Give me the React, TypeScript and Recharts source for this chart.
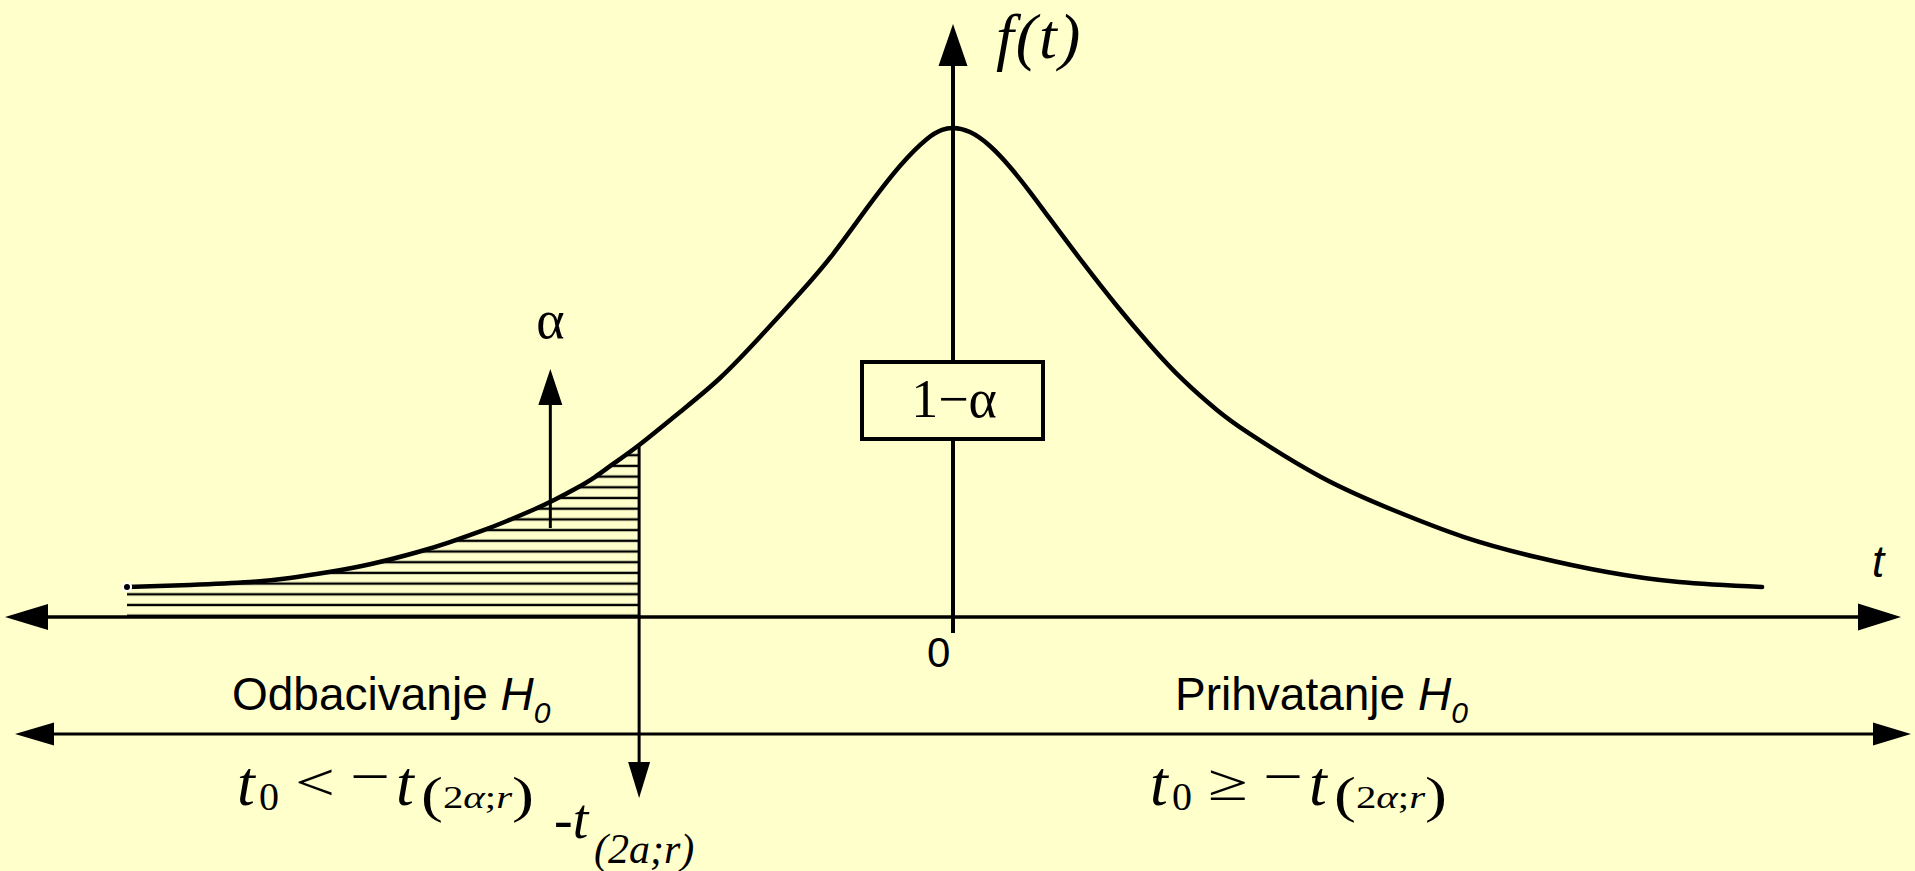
import { Area, ComposedChart, Customized, Line, XAxis, YAxis } from "recharts"

// t values (0 = vertical axis)
const tValues = [
  -4.0, -3.695, -3.404, -3.211, -3.022, -2.818, -2.591, -2.436, -2.276, -2.16,
  -2.024, -1.927, -1.831, -1.734, -1.646, -1.52, -1.322, -1.128, -0.935, -0.741,
  -0.581, -0.416, -0.257, -0.126, -0.053, 0, 0.082, 0.179, 0.276, 0.373, 0.47,
  0.63, 0.794, 0.954, 1.114, 1.278, 1.438, 1.782, 2.131, 2.475, 2.823, 3.167,
  3.516, 3.918,
]

// density f(t), peak = 0.40
const fValues = [
  0.0245, 0.0262, 0.0286, 0.0319, 0.0368, 0.0434, 0.0532, 0.0613, 0.0708,
  0.0785, 0.0883, 0.0961, 0.1047, 0.1145, 0.1252, 0.1407, 0.1677, 0.1955,
  0.229, 0.265, 0.2969, 0.3346, 0.3689, 0.391, 0.3984, 0.4, 0.3967, 0.3853,
  0.3681, 0.3476, 0.3256, 0.2896, 0.2544, 0.2225, 0.1939, 0.1693, 0.1497,
  0.1145, 0.0875, 0.0654, 0.0491, 0.0368, 0.0286, 0.0245,
]

// critical value -t(2a;r) and the alpha pointer position
const T_CRIT = -1.52
const T_ALPHA = -1.95

const data = tValues.map((t, i) => ({
  t,
  f: fValues[i],
  hatch: t <= T_CRIT ? fValues[i] : null,
}))

const W = 1915
const H = 871
const BG = "#FFFFCC"
const ORIGIN_X = 953
const ORIGIN_Y = 617
const PX_PER_T = 206.5
const PX_PER_F = 1222.5
const X_DOMAIN = [-ORIGIN_X / PX_PER_T, (W - ORIGIN_X) / PX_PER_T]
const Y_DOMAIN = [-(H - ORIGIN_Y) / PX_PER_F, ORIGIN_Y / PX_PER_F]

const sx = (t: number) => ORIGIN_X + t * PX_PER_T
const sy = (f: number) => ORIGIN_Y - f * PX_PER_F

const SERIF = "'Liberation Serif', 'Times New Roman', serif"
const SANS = "'Liberation Sans', Arial, sans-serif"

// filled triangle with its tip at (x, y), pointing along (dx, dy)
function head(x: number, y: number, dx: number, dy: number, len: number, half: number) {
  const bx = x - dx * len
  const by = y - dy * len
  const px = -dy * half
  const py = dx * half
  return `${x},${y} ${bx + px},${by + py} ${bx - px},${by - py}`
}

function Formula({ x0, rel }: { x0: number; rel: string }) {
  return (
    <g fill="#000" fontFamily={SERIF}>
      <text x={x0} y={805} fontSize={64} fontStyle="italic">t</text>
      <text x={x0 + 22} y={810} fontSize={40}>0</text>
      <text x={x0 + 58} y={800} fontSize={52} textLength={40} lengthAdjust="spacingAndGlyphs">
        {rel}
      </text>
      <text x={x0 + 113} y={796} fontSize={58} textLength={40} lengthAdjust="spacingAndGlyphs">
        −
      </text>
      <text x={x0 + 159} y={805} fontSize={64} fontStyle="italic">t</text>
      <text x={x0 + 184} y={812} textLength={113} lengthAdjust="spacingAndGlyphs">
        <tspan fontSize={50}>(</tspan>
        <tspan fontSize={31} dy={-4}>2</tspan>
        <tspan fontSize={31} fontStyle="italic">α</tspan>
        <tspan fontSize={31}>;</tspan>
        <tspan fontSize={31} fontStyle="italic">r</tspan>
        <tspan fontSize={50} dy={4}>)</tspan>
      </text>
    </g>
  )
}

function Overlay() {
  const xc = sx(T_CRIT)
  const fc = fValues[tValues.indexOf(T_CRIT)]
  const xa = sx(T_ALPHA)
  return (
    <g>
      <defs>
        <pattern id="hatch" patternUnits="userSpaceOnUse" width={20} height={10.7}>
          <line x1={0} y1={5.8} x2={20} y2={5.8} stroke="#000" strokeWidth={2.4} />
        </pattern>
      </defs>

      {/* t axis */}
      <line x1={40} y1={ORIGIN_Y} x2={1865} y2={ORIGIN_Y} stroke="#000" strokeWidth={3.5} />
      <polygon points={head(5, ORIGIN_Y, -1, 0, 43, 13)} fill="#000" />
      <polygon points={head(1901, ORIGIN_Y, 1, 0, 43, 13.5)} fill="#000" />
      <text x={1872} y={577} fontFamily={SANS} fontStyle="italic" fontSize={44}>t</text>
      <text x={927} y={667} fontFamily={SANS} fontSize={42}>0</text>

      {/* f(t) axis */}
      <line x1={ORIGIN_X} y1={60} x2={ORIGIN_X} y2={633} stroke="#000" strokeWidth={4} />
      <polygon points={head(ORIGIN_X, 24, 0, -1, 42, 14.5)} fill="#000" />
      <text x={996} y={58} fontFamily={SERIF} fontStyle="italic" fontSize={64} letterSpacing={2}>
        f(t)
      </text>

      {/* 1 - alpha box */}
      <rect x={862} y={362} width={181} height={77} fill={BG} stroke="#000" strokeWidth={4} />
      <text x={954} y={417} textAnchor="middle" fontFamily={SERIF} fontSize={54}>1−α</text>

      {/* alpha pointer */}
      <line x1={xa} y1={528} x2={xa} y2={400} stroke="#000" strokeWidth={3} />
      <polygon points={head(xa, 369, 0, -1, 36, 12)} fill="#000" />
      <text x={xa} y={338} textAnchor="middle" fontFamily={SERIF} fontSize={54}>α</text>

      {/* critical value */}
      <line x1={xc} y1={sy(fc)} x2={xc} y2={770} stroke="#000" strokeWidth={3} />
      <polygon points={head(xc, 798, 0, 1, 36, 11)} fill="#000" />
      <text x={554} y={838} fontFamily={SERIF} fontStyle="italic" fontSize={56}>-t</text>
      <text x={594} y={863} fontFamily={SERIF} fontStyle="italic" fontSize={42}>(2a;r)</text>

      {/* decision regions */}
      <line x1={50} y1={734} x2={1875} y2={734} stroke="#000" strokeWidth={3} />
      <polygon points={head(15, 734, -1, 0, 39, 11.5)} fill="#000" />
      <polygon points={head(1911, 734, 1, 0, 38, 11.5)} fill="#000" />
      <text x={232} y={710} fontFamily={SANS} fontSize={46}>
        Odbacivanje <tspan fontStyle="italic">H</tspan>
        <tspan fontStyle="italic" fontSize={30} dy={13}>0</tspan>
      </text>
      <text x={1175} y={710} fontFamily={SANS} fontSize={46}>
        Prihvatanje <tspan fontStyle="italic">H</tspan>
        <tspan fontStyle="italic" fontSize={30} dy={13}>0</tspan>
      </text>
      <Formula x0={237} rel="<" />
      <Formula x0={1150} rel="≥" />
    </g>
  )
}

export default function App() {
  return (
    <div style={{ position: "fixed", left: 0, top: 0, width: W, height: H, background: BG }}>
      <ComposedChart width={W} height={H} data={data} margin={{ top: 0, right: 0, bottom: 0, left: 0 }}>
        <XAxis type="number" dataKey="t" domain={X_DOMAIN} allowDataOverflow hide />
        <YAxis type="number" domain={Y_DOMAIN} allowDataOverflow hide />
        <Area
          type="natural"
          dataKey="hatch"
          baseValue={0}
          stroke="none"
          fill="url(#hatch)"
          fillOpacity={1}
          isAnimationActive={false}
        />
        <Line
          type="natural"
          dataKey="f"
          stroke="#000"
          strokeWidth={4.5}
          strokeLinecap="round"
          dot={false}
          isAnimationActive={false}
        />
        <Customized component={Overlay} />
      </ComposedChart>
    </div>
  )
}
